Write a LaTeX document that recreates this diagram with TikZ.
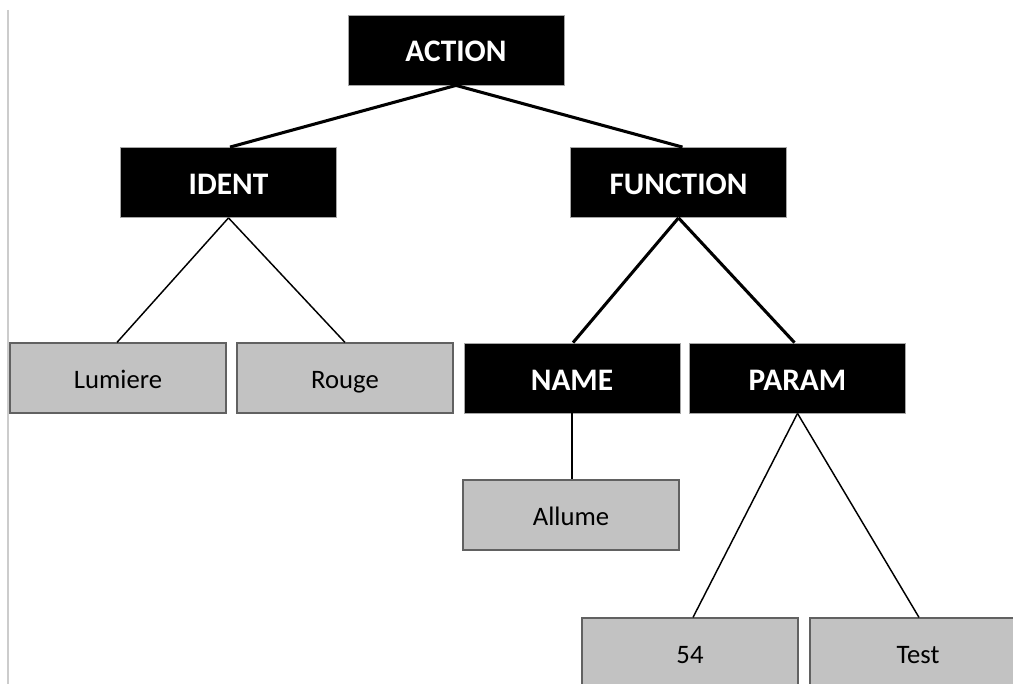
\documentclass[tikz,border=0pt]{standalone}
\usepackage{fontspec}
\setmainfont{Carlito}
\begin{document}
\begin{tikzpicture}[x=0.75pt,y=-0.75pt,
  blackbox/.style={draw=gray!70,line width=0.6pt,fill=black,text=white,font=\bfseries\fontsize{23.5}{27}\selectfont,minimum width=216*0.75pt,minimum height=70*0.75pt,inner sep=0pt,text height=18pt,text depth=0pt},
  graybox/.style={draw=black!62,line width=0.9pt,fill=black!24,text=black,font=\fontsize{20}{24}\selectfont,minimum width=216*0.75pt,minimum height=70*0.75pt,inner sep=0pt,text height=15.5pt,text depth=0pt},
  thickedge/.style={line width=2.3pt,black},
  thinedge/.style={line width=1.1pt,black}]
\useasboundingbox (0,0) rectangle (1013,684);
\clip (0,0) rectangle (1013,684);
\fill[white] (0,0) rectangle (1013,684);
\draw[line width=1.2pt,black!20] (8,10) -- (8,684);
% nodes
\node[blackbox] (action) at (456,50) {ACTION};
\node[blackbox] (ident) at (228.5,182.5) {IDENT};
\node[blackbox] (function) at (678.5,182.5) {FUNCTION};
\node[graybox] (lumiere) at (118,378) {Lumiere};
\node[graybox] (rouge) at (345,378) {Rouge};
\node[blackbox] (name) at (572,378) {NAME};
\node[blackbox] (param) at (797.5,378) {PARAM};
\node[graybox] (allume) at (571,515) {Allume};
\node[graybox] (n54) at (690,653) {54};
\node[graybox] (test) at (918,653) {Test};
% edges
\draw[thickedge] (action.south) -- ([xshift=1.5*0.75pt]ident.north);
\draw[thickedge] (action.south) -- ([xshift=4*0.75pt]function.north);
\draw[thickedge] (function.south) -- ([xshift=1*0.75pt]name.north);
\draw[thickedge] (function.south) -- ([xshift=-3*0.75pt]param.north);
\draw[thinedge] (ident.south) -- ([xshift=-1*0.75pt]lumiere.north);
\draw[thinedge] (ident.south) -- (rouge.north);
\draw[thinedge] (name.south) -- ([xshift=1*0.75pt]allume.north);
\draw[thinedge] (param.south) -- ([xshift=3*0.75pt]n54.north);
\draw[thinedge] (param.south) -- ([xshift=1*0.75pt]test.north);
\end{tikzpicture}
\end{document}
